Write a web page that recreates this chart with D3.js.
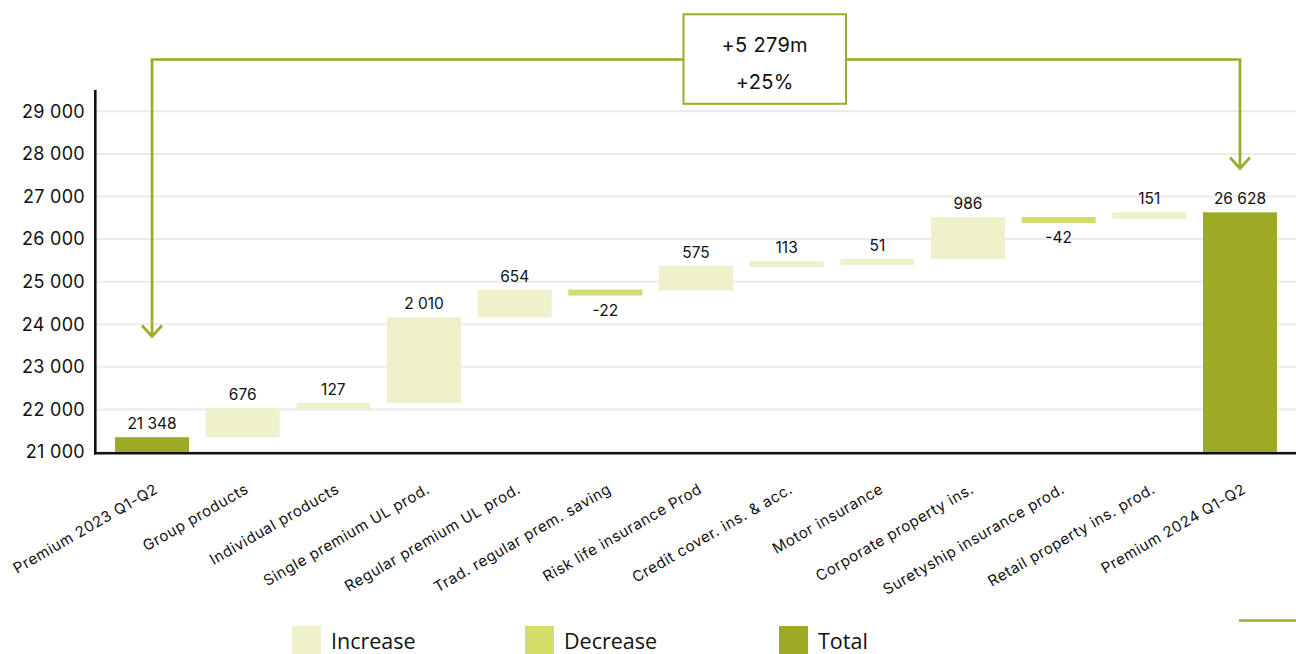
<!DOCTYPE html>
<html>
<head>
<meta charset="utf-8">
<script src="https://cdn.jsdelivr.net/npm/d3@7"></script>
<style>
  html, body { margin: 0; padding: 0; background: #fff; }
  svg { display: block; }
</style>
</head>
<body>
<svg id="chart" width="1296" height="654"></svg>
<script>
// ---- data ----
const categories = [
  "Premium 2023 Q1-Q2", "Group products", "Individual products",
  "Single premium UL prod.", "Regular premium UL prod.", "Trad. regular prem. saving",
  "Risk life insurance Prod", "Credit cover. ins. & acc.", "Motor insurance",
  "Corporate property ins.", "Suretyship insurance prod.", "Retail property ins. prod.",
  "Premium 2024 Q1-Q2"
];
const values = [21348, 676, 127, 2010, 654, -22, 575, 113, 51, 986, -42, 151, 26628];
const types = ["total", "inc", "inc", "inc", "inc", "dec", "inc", "inc", "inc", "inc", "dec", "inc", "total"];
const yTicks = [21000, 22000, 23000, 24000, 25000, 26000, 27000, 28000, 29000];
const legendLabels = ["Increase", "Decrease", "Total"];
const legendTypes = ["inc", "dec", "total"];
const changeAbs = "+5 279m";
const changePct = "+25%";

// ---- styles ----
const colors = { inc: "#EFF1CB", dec: "#D4DC6A", total: "#9DAA24" };
const accent = "#9DAA24";
const fontMain = "Inter, 'DejaVu Sans', sans-serif";
const fontLegend = "'Open Sans', 'Noto Sans', sans-serif";

const svg = d3.select("#chart");
const fmt = d3.formatLocale({ decimal: ".", thousands: " ", grouping: [3], currency: ["", ""], minus: "-" }).format(",d");

const x = d3.scaleBand().domain(categories).range([96, 1296]).paddingInner(0.184).paddingOuter(0.21);
const y = d3.scaleLinear().domain([21000, 29500]).range([452, 90]);

// cumulative waterfall
let run = 0;
const bars = categories.map((c, i) => {
  let start, end;
  if (types[i] === "total") { start = 21000; end = values[i]; run = values[i]; }
  else { start = run; end = run + values[i]; run = end; }
  return { cat: c, value: values[i], type: types[i], start, end };
});

// gridlines
svg.append("g").selectAll("line").data(yTicks).join("line")
  .attr("x1", 97).attr("x2", 1296)
  .attr("y1", d => y(d)).attr("y2", d => y(d))
  .attr("stroke", "#EBEBEB").attr("stroke-width", 2);

// y axis labels
const yAxis = svg.append("g").attr("transform", "translate(96,0)")
  .call(d3.axisLeft(y).tickValues(yTicks).tickFormat(fmt).tickSize(0).tickPadding(11));
yAxis.select(".domain").remove();
yAxis.selectAll("text").attr("font-family", fontMain).attr("font-size", 18).attr("fill", "#111")
  .attr("letter-spacing", 0.3);

// bars
const minH = 6;
const barTop = d => Math.min(y(d.start), y(d.end));
const barH = d => Math.max(minH, Math.abs(y(d.start) - y(d.end)));
svg.append("g").selectAll("rect").data(bars).join("rect")
  .attr("x", d => x(d.cat))
  .attr("width", x.bandwidth())
  .attr("y", barTop)
  .attr("height", barH)
  .attr("fill", d => colors[d.type]);

// value labels
svg.append("g").selectAll("text").data(bars).join("text")
  .attr("x", d => x(d.cat) + x.bandwidth() / 2)
  .attr("y", d => d.type === "dec" ? barTop(d) + barH(d) + 20 : barTop(d) - 8)
  .attr("text-anchor", "middle")
  .attr("font-family", fontMain).attr("font-size", 15.5).attr("fill", "#111")
  .text(d => fmt(d.value));

// axes lines
svg.append("line").attr("x1", 95.3).attr("x2", 95.3).attr("y1", 90).attr("y2", 454.5)
  .attr("stroke", "#111").attr("stroke-width", 2.6);
const xAxis = svg.append("g").attr("transform", "translate(0,452)")
  .call(d3.axisBottom(x).tickSize(0));
xAxis.select(".domain").remove();
svg.append("line").attr("x1", 94).attr("x2", 1296).attr("y1", 453.3).attr("y2", 453.3)
  .attr("stroke", "#111").attr("stroke-width", 2.6);
xAxis.selectAll("text")
  .attr("font-family", fontMain).attr("font-size", 15).attr("fill", "#111")
  .attr("letter-spacing", 0.6)
  .attr("text-anchor", "end")
  .attr("x", 0).attr("y", 0).attr("dy", 0)
  .attr("transform", "translate(7,40) rotate(-30)");

// change arrows
const xL = x(categories[0]) + x.bandwidth() / 2;
const xR = x(categories[categories.length - 1]) + x.bandwidth() / 2;
const lineY = 59.5;
const boxX = 683.5, boxW = 162.5, boxY = 14.3, boxH = 89.5;
const tipL = 336.5, tipR = 168.5;
const g = svg.append("g").attr("fill", "none").attr("stroke", accent).attr("stroke-width", 2.7);
g.append("path").attr("d", `M${xL},${tipL} V${lineY} H${boxX}`);
g.append("path").attr("d", `M${boxX + boxW},${lineY} H${xR} V${tipR}`);
g.append("path").attr("d", `M${xL - 10},${tipL - 11} L${xL},${tipL} L${xL + 10},${tipL - 11}`);
g.append("path").attr("d", `M${xR - 10},${tipR - 11} L${xR},${tipR} L${xR + 10},${tipR - 11}`);
svg.append("rect").attr("x", boxX).attr("y", boxY).attr("width", boxW).attr("height", boxH)
  .attr("fill", "#fff").attr("stroke", accent).attr("stroke-width", 2);
svg.append("text").attr("x", boxX + boxW / 2).attr("y", 52)
  .attr("text-anchor", "middle").attr("font-family", fontMain).attr("font-size", 20).attr("fill", "#111")
  .attr("letter-spacing", 0.3)
  .text(changeAbs);
svg.append("text").attr("x", boxX + boxW / 2).attr("y", 89)
  .attr("text-anchor", "middle").attr("font-family", fontMain).attr("font-size", 20).attr("fill", "#111")
  .attr("letter-spacing", 0.3)
  .text(changePct);

// legend
const legendX = [292, 525, 779];
const lg = svg.append("g").selectAll("g").data(legendLabels).join("g")
  .attr("transform", (d, i) => `translate(${legendX[i]},626)`);
lg.append("rect").attr("width", 29).attr("height", 30).attr("fill", (d, i) => colors[legendTypes[i]]);
lg.append("text").attr("x", 39).attr("y", 22.5)
  .attr("font-family", fontLegend).attr("font-size", 21.5).attr("fill", "#111")
  .text(d => d);

// stray accent line at bottom right
svg.append("line").attr("x1", 1239).attr("x2", 1296).attr("y1", 620.5).attr("y2", 620.5)
  .attr("stroke", accent).attr("stroke-width", 2.5);
</script>
</body>
</html>
